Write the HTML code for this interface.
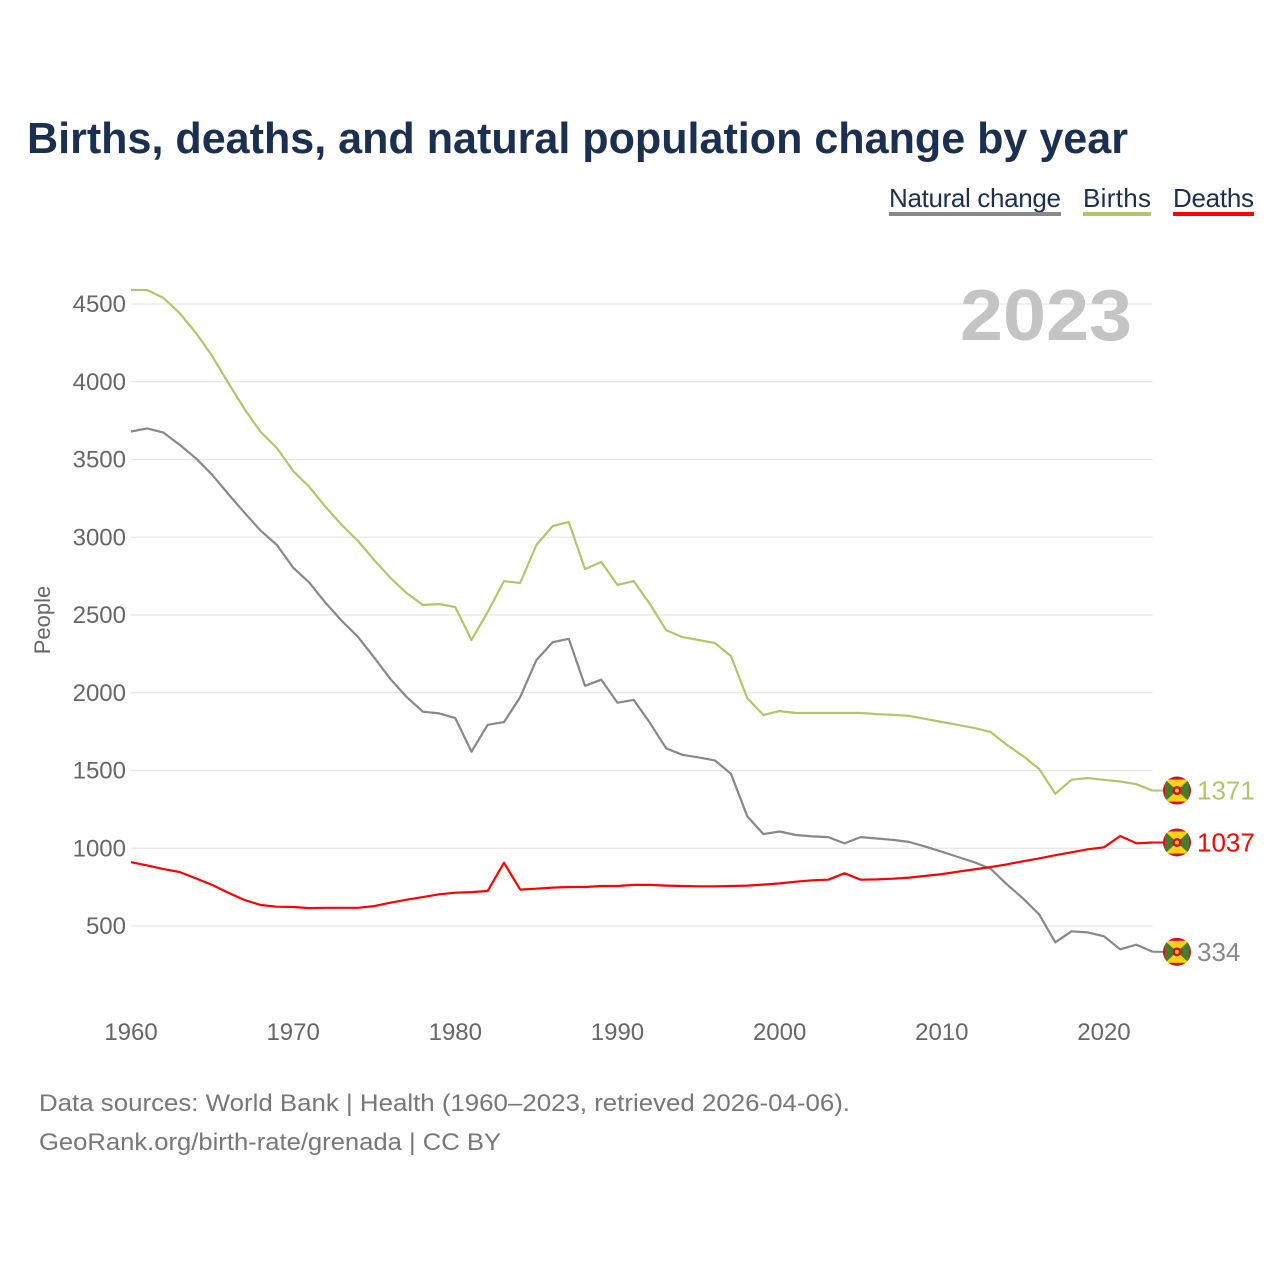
<!DOCTYPE html>
<html><head><meta charset="utf-8"><style>
html,body{margin:0;padding:0;background:#fff;}
body{width:1280px;height:1280px;position:relative;overflow:hidden;font-family:"Liberation Sans",sans-serif;}
svg text{font-family:"Liberation Sans",sans-serif;}
</style></head><body>
<svg id="chart" width="1280" height="1280" viewBox="0 0 1280 1280" xmlns="http://www.w3.org/2000/svg">
<defs>
<clipPath id="fc"><circle cx="0" cy="0" r="14"/></clipPath>
<g id="flag">
<g clip-path="url(#fc)">
<rect x="-15" y="-15" width="30" height="30" fill="#ce1126"/>
<rect x="-12" y="-11" width="24" height="22" fill="#fcd116"/>
<polygon points="-12,-11 0,0 -12,11" fill="#4a7a2c"/>
<polygon points="12,-11 0,0 12,11" fill="#4a7a2c"/>
<circle cx="0" cy="0" r="4.5" fill="#ce1126"/>
<circle cx="0" cy="0" r="2" fill="#fcd116"/>
</g>
</g>
</defs>
<text x="27" y="153" font-size="44" font-weight="bold" fill="#1b3050" textLength="1101" lengthAdjust="spacingAndGlyphs">Births, deaths, and natural population change by year</text>
<g id="legend"></g>
<g id="grid"></g>
<g id="yticks"></g>
<g id="xticks"></g>
<text transform="translate(50,620) rotate(-90)" text-anchor="middle" font-size="22" fill="#666">People</text>
<text x="960" y="340" font-size="72" font-weight="bold" fill="#c4c4c4" textLength="172" lengthAdjust="spacingAndGlyphs">2023</text>
<g id="series"></g>
<text x="39" y="1111" font-size="24" fill="#777" textLength="811" lengthAdjust="spacingAndGlyphs">Data sources: World Bank | Health (1960–2023, retrieved 2026-04-06).</text>
<text x="39" y="1150" font-size="24" fill="#777" textLength="462" lengthAdjust="spacingAndGlyphs">GeoRank.org/birth-rate/grenada | CC BY</text>
</svg>
<script>
const years = [];
for (let y = 1960; y <= 2023; y++) years.push(y);
const births = [4590,4590,4539,4442,4314,4166,3992,3825,3677,3574,3426,3323,3195,3079,2976,2854,2738,2641,2564,2571,2551,2339,2519,2718,2706,2950,3072,3098,2796,2841,2693,2718,2571,2403,2358,2339,2320,2236,1966,1857,1882,1870,1870,1870,1870,1870,1863,1858,1851,1832,1812,1793,1774,1748,1665,1594,1510,1350,1440,1452,1440,1429,1412,1371];
const deaths = [910,890,866,847,806,764,714,667,635,624,622,615,617,617,617,628,650,669,686,704,714,718,725,907,734,740,747,751,751,757,757,764,764,760,757,755,755,757,760,766,774,785,794,798,839,798,800,804,811,822,834,849,864,879,896,916,935,955,974,993,1006,1079,1032,1037];
const natural = [3680,3700,3673,3595,3508,3402,3278,3158,3042,2950,2804,2708,2578,2462,2359,2226,2088,1972,1878,1867,1837,1621,1794,1811,1972,2210,2325,2347,2045,2084,1936,1954,1807,1643,1601,1584,1565,1479,1206,1091,1108,1085,1076,1072,1031,1072,1063,1054,1040,1010,978,944,910,869,769,678,575,395,466,459,434,350,380,334];
const yTicks = [500,1000,1500,2000,2500,3000,3500,4000,4500];
const xTicks = [1960,1970,1980,1990,2000,2010,2020];
const legendLabels = ["Natural change","Births","Deaths"];

const X0 = 131, X1 = 1152.6, Y0 = 1003.75, KY = 0.1555;
const xs = y => X0 + (y - 1960) * (X1 - X0) / 63;
const ys = v => Y0 - v * KY;
const NS = "http://www.w3.org/2000/svg";
function mk(tag, attrs, parent) { const e = document.createElementNS(NS, tag); for (const k in attrs) e.setAttribute(k, attrs[k]); parent.appendChild(e); return e; }

const grid = document.getElementById('grid'), yt = document.getElementById('yticks'), xt = document.getElementById('xticks');
yTicks.forEach(v => {
  const l = mk('line', {x1: X0, x2: X1, y1: ys(v), y2: ys(v), stroke: '#e6e6e6', 'stroke-width': 1.2}, grid);
  
  
  const t = mk('text', {x: 126, y: ys(v) + 8, 'text-anchor': 'end', 'font-size': 24, fill: '#666'}, yt);
  t.textContent = v;
  
  
});
xTicks.forEach(v => {
  const t = mk('text', {x: xs(v), y: 1040, 'text-anchor': 'middle', 'font-size': 24, fill: '#666'}, xt);
  t.textContent = v;
  
  
});

const lg = document.getElementById('legend');
const lgColors = ['#888888','#b5c46a','#ff0000'];
const lgX = [889, 1083, 1173], lgW = [172, 68, 81];
legendLabels.forEach((name, i) => {
  const g = mk('g', {}, lg);
  
  
  const t = mk('text', {x: lgX[i], y: 207, 'font-size': 26, fill: '#1b3050', textLength: lgW[i]}, g);
  t.textContent = name;
  mk('rect', {x: lgX[i], y: 212, width: lgW[i], height: 4, fill: lgColors[i]}, g);
});

const sg = document.getElementById('series');
const series = [
  {name: 'natural-change', data: natural, color: '#888888'},
  {name: 'births', data: births, color: '#b5c46a'},
  {name: 'deaths', data: deaths, color: '#ff0000'}
];
series.forEach(s => {
  const d = s.data.map((v, i) => (i ? 'L' : 'M') + xs(years[i]).toFixed(1) + ',' + ys(v).toFixed(1)).join('');
  const p = mk('path', {d: d, fill: 'none', stroke: s.color, 'stroke-width': 2.2, 'stroke-linejoin': 'round'}, sg);
  
  
  const last = s.data[s.data.length - 1];
  const ly = ys(last);
  mk('line', {x1: X1, x2: 1165, y1: ly, y2: ly, stroke: s.color, 'stroke-width': 2}, sg);
  const f = mk('use', {href: '#flag', x: 1177, y: ly}, sg);
  
  
  const t = mk('text', {x: 1197, y: ly + 9, 'font-size': 26, fill: s.color}, sg);
  t.textContent = last;
  
  
});
</script>
</body></html>
